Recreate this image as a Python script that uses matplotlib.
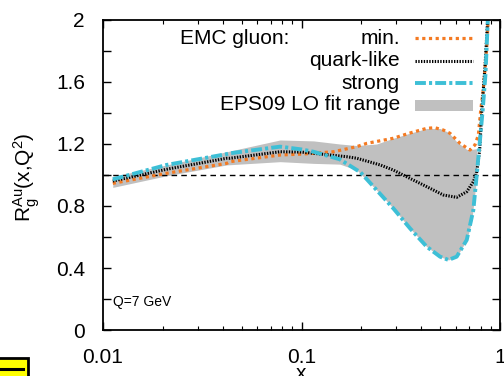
import numpy as np
import matplotlib
matplotlib.use('Agg')
import matplotlib.pyplot as plt
from matplotlib.patches import Rectangle
from matplotlib.lines import Line2D

plt.rcParams['font.family'] = ['Liberation Sans', 'DejaVu Sans']
plt.rcParams['mathtext.default'] = 'regular'

# curves
x_min = [0.0112, 0.0209, 0.042, 0.0436, 0.078, 0.1, 0.115, 0.145, 0.19, 0.213, 0.29, 0.35,
         0.427, 0.47, 0.518, 0.56, 0.629, 0.706, 0.748, 0.778, 0.80, 0.824, 0.857, 0.88]
y_min = [0.946, 1.011, 1.075, 1.086, 1.129, 1.135, 1.14, 1.15, 1.183, 1.204, 1.237, 1.27,
         1.301, 1.305, 1.29, 1.269, 1.204, 1.161, 1.194, 1.258, 1.42, 1.55, 1.817, 2.1]

x_quark = [0.0112, 0.0209, 0.042, 0.0436, 0.078, 0.1, 0.115, 0.169, 0.19, 0.249, 0.29, 0.352,
           0.427, 0.518, 0.605, 0.68, 0.734, 0.762, 0.79, 0.81, 0.84, 0.875]
y_quark = [0.961, 1.037, 1.108, 1.108, 1.150, 1.148, 1.14, 1.118, 1.108, 1.065, 1.032, 0.978,
           0.925, 0.871, 0.856, 0.892, 0.957, 1.011, 1.161, 1.42, 1.70, 2.1]

x_strong = [0.0112, 0.0209, 0.042, 0.0436, 0.078, 0.1, 0.115, 0.156, 0.19, 0.197, 0.239, 0.29,
            0.352, 0.427, 0.499, 0.55, 0.605, 0.68, 0.734, 0.762, 0.79, 0.818, 0.845, 0.875]
y_strong = [0.972, 1.065, 1.135, 1.14, 1.183, 1.165, 1.150, 1.101, 1.032, 1.021, 0.903, 0.785,
            0.656, 0.538, 0.473, 0.452, 0.473, 0.581, 0.774, 0.989, 1.204, 1.419, 1.65, 2.1]

x_band = [0.0112, 0.0209, 0.042, 0.078, 0.115, 0.156, 0.19, 0.239, 0.29, 0.352, 0.427, 0.499,
          0.55, 0.605, 0.68, 0.72, 0.762]
band_hi = [0.99, 1.065, 1.15, 1.226, 1.22, 1.20, 1.19, 1.20, 1.237, 1.27, 1.30, 1.30,
           1.275, 1.215, 1.165, 1.165, 1.17]
band_lo = [0.92, 0.995, 1.065, 1.086, 1.075, 1.07, 1.032, 0.903, 0.785, 0.656, 0.538, 0.473,
           0.452, 0.473, 0.581, 0.70, 0.98]

c_orange = '#f47a22'
c_cyan = '#3dbfd6'
c_gray = '#c0c0c0'

fig = plt.figure(figsize=(5.04, 3.76), dpi=100)
ax = fig.add_axes([103/504, 46/376, 397/504, 310/376])

ax.fill_between(x_band, band_lo, band_hi, color=c_gray, lw=0)
ax.axhline(1.0, color='black', lw=1.0, dashes=(4, 3))
ax.plot(x_min, y_min, color=c_orange, lw=2.3, dashes=(1, 1.1), dash_capstyle='butt')
ax.plot(x_quark, y_quark, color='black', lw=2.2, dashes=(0.45, 0.45), dash_capstyle='butt')
ax.plot(x_strong, y_strong, color=c_cyan, lw=2.8, dashes=(2.8, 0.8, 0.8, 0.8), dash_capstyle='butt')

ax.set_xscale('log')
ax.set_xlim(0.01, 1)
ax.set_ylim(0, 2)
ax.set_xticks([0.01, 0.1, 1])
ax.set_xticklabels(['0.01', '0.1', '1'])
ax.set_yticks(np.arange(0, 2.01, 0.2))
ax.set_yticklabels(['0', '', '0.4', '', '0.8', '', '1.2', '', '1.6', '', '2'])
ax.tick_params(which='both', direction='in', top=True, right=True, labelsize=15)
ax.tick_params(which='major', length=6, width=1.0)
ax.tick_params(which='minor', length=3, width=0.8)
ax.tick_params(axis='x', pad=13)
ax.tick_params(axis='y', pad=13)
for s in ax.spines.values():
    s.set_linewidth(1.3)

ax.set_xlabel('x', fontsize=15, labelpad=-2)
ax.set_ylabel(r'$R_g^{Au}(x{,}Q^2)$', fontsize=15, va='center')
ax.yaxis.set_label_coords(-0.191, 0.494)

# legend, drawn gnuplot style
tr = ax.transAxes
ax.text(0.194, 0.941, 'EMC gluon:', transform=tr, fontsize=15, ha='left', va='center')
labels = ['min.', 'quark-like', 'strong', 'EPS09 LO fit range']
ys = [0.941, 0.868, 0.796, 0.726]
for lab, yy in zip(labels, ys):
    ax.text(0.748, yy, lab, transform=tr, fontsize=15, ha='right', va='center')
ax.add_line(Line2D([0.786, 0.932], [ys[0]] * 2, transform=tr, color=c_orange, lw=2.3,
                   dashes=(1, 1.1), dash_capstyle='butt'))
ax.add_line(Line2D([0.786, 0.932], [ys[1]] * 2, transform=tr, color='black', lw=2.2,
                   dashes=(0.45, 0.45), dash_capstyle='butt'))
ax.add_line(Line2D([0.786, 0.932], [ys[2]] * 2, transform=tr, color=c_cyan, lw=2.8,
                   dashes=(2.8, 0.8, 0.8, 0.8), dash_capstyle='butt'))
ax.add_patch(Rectangle((0.786, 0.708), 0.146, 0.034, transform=tr, color=c_gray, lw=0))

ax.text(0.024, 0.090, 'Q=7 GeV', transform=tr, fontsize=10, ha='left', va='center')

# bit of a yellow box clipped in the corner
fig.add_artist(Rectangle((-0.01, -0.01), 0.01 + 28/504, 0.01 + 18/376, transform=fig.transFigure,
                         facecolor='#ffff00', edgecolor='black', lw=2, clip_on=False))
fig.add_artist(Line2D([0, 23/504], [7/376, 7/376], transform=fig.transFigure, color='black', lw=2.2))

fig.savefig('out.png', dpi=100)
